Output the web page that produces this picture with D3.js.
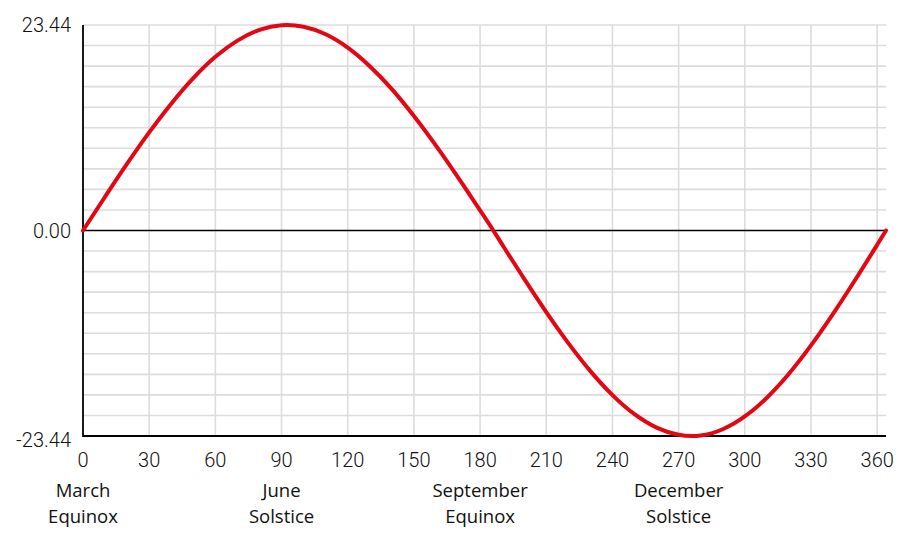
<!DOCTYPE html>
<html>
<head>
<meta charset="utf-8">
<script src="https://cdn.jsdelivr.net/npm/d3@7"></script>
<style>
  html, body { margin: 0; padding: 0; background: #fff; }
  svg { display: block; }
</style>
</head>
<body>
<svg id="chart" width="900" height="536"></svg>
<script>
// ---- Data ----
const days = [0, 10, 20, 30, 40, 50, 60, 70, 80, 90, 92.5, 100, 110, 120, 130, 140, 150, 160, 170, 180, 186,
              190, 200, 210, 220, 230, 240, 250, 260, 270, 276, 280, 290, 300, 310, 320, 330, 340, 350, 360, 364];
const declination = [0, 3.85, 7.62, 11.19, 14.47, 17.38, 19.81, 21.66, 22.89, 23.42, 23.44, 23.24, 22.38, 20.86, 18.74, 16.13, 13.07, 9.69, 6.07, 2.30, 0,
              -1.59, -5.52, -9.31, -12.85, -16.04, -18.77, -20.95, -22.48, -23.30, -23.44, -23.38, -22.67, -21.21, -19.07, -16.34, -13.11, -9.51, -5.65, -1.63, 0];
const xTicks = [0, 30, 60, 90, 120, 150, 180, 210, 240, 270, 300, 330, 360];
const yTickLabels = [23.44, 0, -23.44];
const eventDays = [0, 90, 180, 270];
const eventLabels = [["March", "Equinox"], ["June", "Solstice"], ["September", "Equinox"], ["December", "Solstice"]];
const yMax = 23.44;
const xMax = 364;

// ---- Layout ----
const svg = d3.select("#chart");
const mLeft = 83, mRight = 886, mTop = 25, mBottom = 436;

const x = d3.scaleLinear().domain([0, xMax]).range([mLeft, mRight]);
const y = d3.scaleLinear().domain([-yMax, yMax]).range([mBottom, mTop]);

// horizontal grid: 10 divisions per half
const yGrid = d3.range(-10, 11).map(i => i * yMax / 10);

svg.append("g").selectAll("line")
  .data(yGrid.filter(v => Math.abs(v) > 1e-9 && v > -yMax + 1e-9))
  .join("line")
  .attr("x1", mLeft).attr("x2", mRight)
  .attr("y1", d => y(d)).attr("y2", d => y(d))
  .attr("stroke", "#dcdcdc").attr("stroke-width", 1.6);

svg.append("g").selectAll("line")
  .data(xTicks.filter(d => d > 0))
  .join("line")
  .attr("x1", d => x(d)).attr("x2", d => x(d))
  .attr("y1", mTop).attr("y2", mBottom)
  .attr("stroke", "#dcdcdc").attr("stroke-width", 1.6);

// zero line
svg.append("line")
  .attr("x1", mLeft).attr("x2", mRight)
  .attr("y1", y(0)).attr("y2", y(0))
  .attr("stroke", "#000").attr("stroke-width", 1.6);

// axes lines
svg.append("line")
  .attr("x1", mLeft).attr("x2", mLeft)
  .attr("y1", mTop).attr("y2", mBottom + 1)
  .attr("stroke", "#000").attr("stroke-width", 1.8);
svg.append("line")
  .attr("x1", mLeft).attr("x2", mRight)
  .attr("y1", mBottom).attr("y2", mBottom)
  .attr("stroke", "#000").attr("stroke-width", 1.8);

// curve
const line = d3.line()
  .x((d, i) => x(days[i]))
  .y(d => y(d))
  .curve(d3.curveMonotoneX);

svg.append("path")
  .datum(declination)
  .attr("d", line)
  .attr("fill", "none")
  .attr("stroke", "#e30613")
  .attr("stroke-width", 4)
  .attr("stroke-linecap", "round");

// y tick labels
svg.append("g").selectAll("text")
  .data(yTickLabels)
  .join("text")
  .attr("x", 71)
  .attr("y", d => y(d) + (d < 0 ? 4 : 0))
  .attr("dy", "0.35em")
  .attr("text-anchor", "end")
  .attr("font-family", "Roboto, sans-serif")
  .attr("font-weight", 300)
  .attr("font-size", 20)
  .attr("fill", "#111")
  .text(d => d.toFixed(2));

// x tick labels
svg.append("g").selectAll("text")
  .data(xTicks)
  .join("text")
  .attr("x", d => x(d))
  .attr("y", 467)
  .attr("text-anchor", "middle")
  .attr("font-family", "Roboto, sans-serif")
  .attr("font-weight", 300)
  .attr("font-size", 20)
  .attr("fill", "#111")
  .text(d => d);

// event labels
const ev = svg.append("g").selectAll("text")
  .data(eventDays)
  .join("text")
  .attr("text-anchor", "middle")
  .attr("font-family", "'Open Sans', sans-serif")
  .attr("font-size", 18.5)
  .attr("fill", "#111");
ev.each(function(d, i) {
  const t = d3.select(this);
  eventLabels[i].forEach((s, j) => {
    t.append("tspan").attr("x", x(d)).attr("y", 497 + j * 26).text(s);
  });
});
</script>
</body>
</html>
